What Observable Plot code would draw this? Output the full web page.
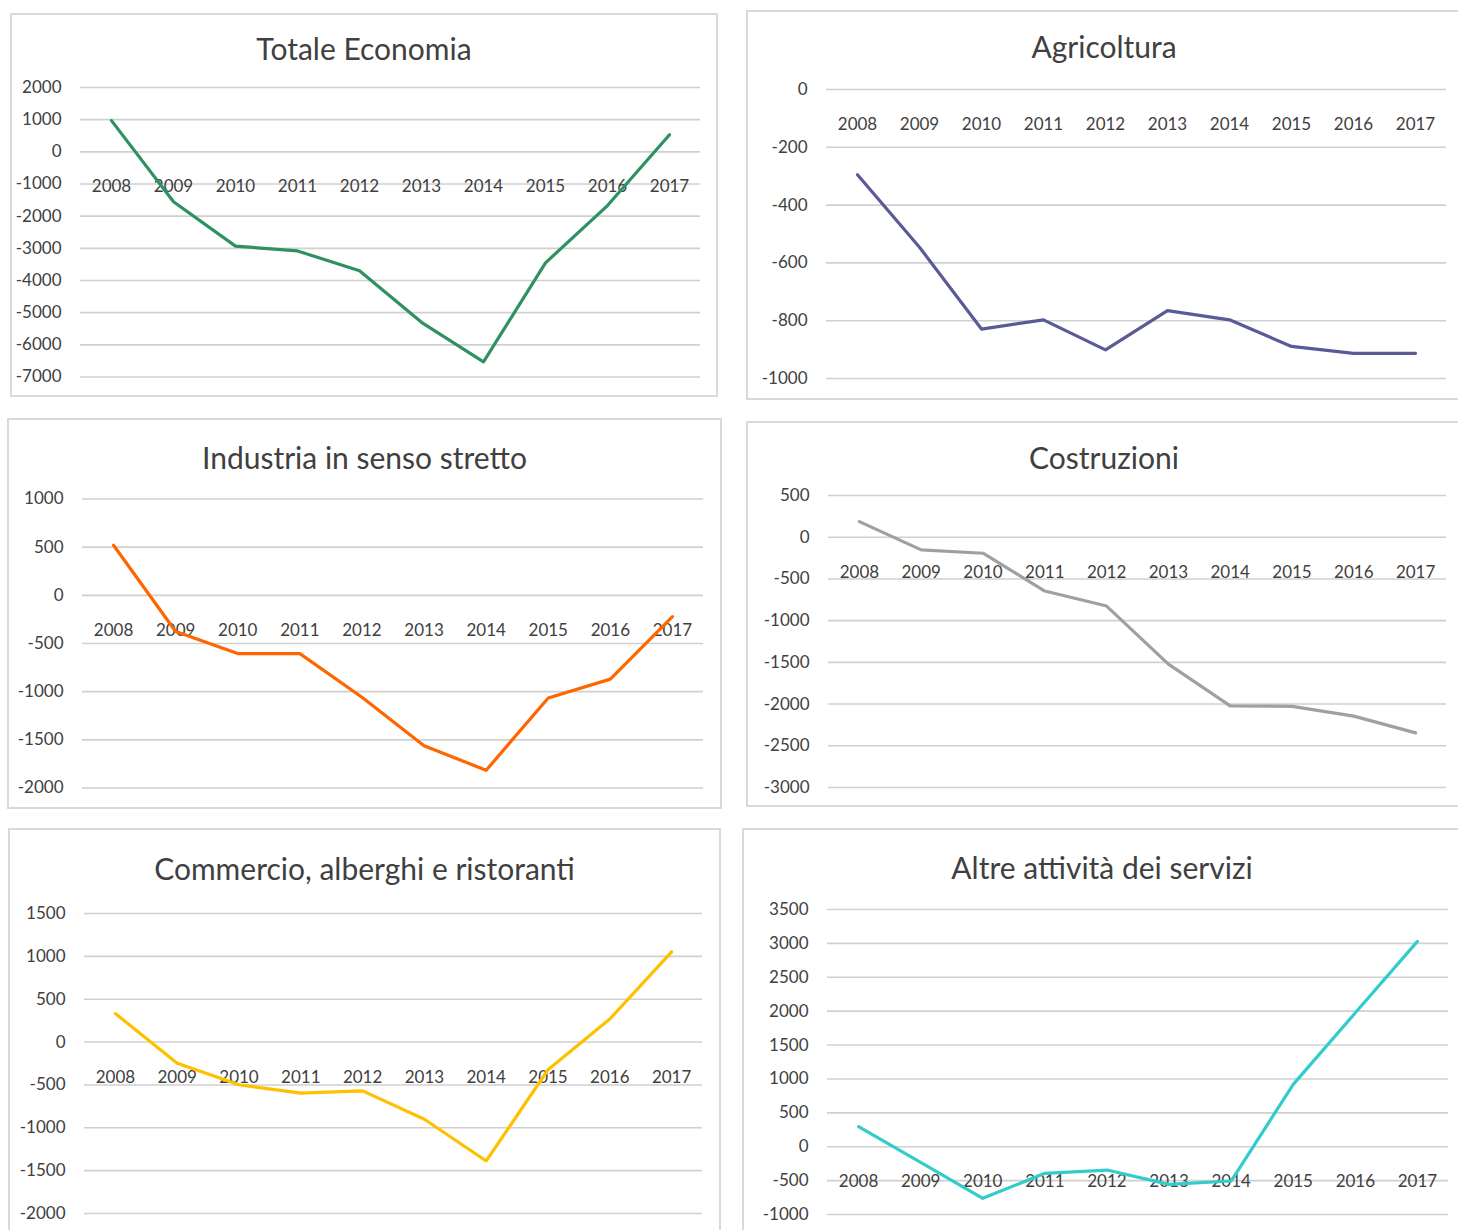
<!DOCTYPE html>
<html>
<head>
<meta charset="utf-8">
<script src="https://cdn.jsdelivr.net/npm/d3@7"></script>
<script src="https://cdn.jsdelivr.net/npm/@observablehq/plot@0.6"></script>
<style>
  html, body { margin: 0; padding: 0; background: #ffffff; }
  #root { position: relative; width: 1458px; height: 1230px; overflow: hidden; font-family: Lato, "Open Sans", sans-serif; }
  .panel { position: absolute; box-sizing: border-box; border: 2px solid #d9d9d9; background: #fff; overflow: hidden; }
  .title { text-align: center; color: #404040; font-size: 30px; white-space: nowrap; overflow: visible; }
</style>
</head>
<body>
<div id="root"></div>
<script>
// ---------------- DATA ----------------
const years = [2008, 2009, 2010, 2011, 2012, 2013, 2014, 2015, 2016, 2017];

const titles = [
  "Totale Economia",
  "Agricoltura",
  "Industria in senso stretto",
  "Costruzioni",
  "Commercio, alberghi e ristoranti",
  "Altre attività dei servizi"
];

const totaleEconomia = [970, -1550, -2930, -3080, -3700, -5300, -6530, -3450, -1670, 530];
const agricoltura    = [-295, -546, -829, -797, -901, -765, -797, -889, -913, -913];
const industria      = [520, -375, -605, -605, -1058, -1561, -1816, -1065, -870, -221];
const costruzioni    = [187, -152, -192, -645, -825, -1521, -2021, -2028, -2145, -2345];
const commercio      = [332, -246, -498, -596, -569, -900, -1387, -323, 269, 1053];
const altreServizi   = [295, -230, -761, -393, -344, -555, -506, 920, 1976, 3030];

const ticksTotale      = [2000, 1000, 0, -1000, -2000, -3000, -4000, -5000, -6000, -7000];
const ticksAgricoltura = [0, -200, -400, -600, -800, -1000];
const ticksIndustria   = [1000, 500, 0, -500, -1000, -1500, -2000];
const ticksCostruzioni = [500, 0, -500, -1000, -1500, -2000, -2500, -3000];
const ticksCommercio   = [1500, 1000, 500, 0, -500, -1000, -1500, -2000];
const ticksAltre       = [3500, 3000, 2500, 2000, 1500, 1000, 500, 0, -500, -1000];

const colors = ["#2e9160", "#5a5a98", "#ff6600", "#a0a0a0", "#ffc000", "#33cccc"];

// ---------------- LAYOUT (page pixels) ----------------
const layout = [
  {box: [10, 13, 718, 397],   tc: 48,  gx: [80, 700],   gy: [87, 376.5]},
  {box: [746, 10, 1462, 400], tc: 46,  gx: [826, 1446], gy: [89, 378]},
  {box: [7, 418, 722, 809],   tc: 457, gx: [82, 703],   gy: [498.5, 787.5]},
  {box: [746, 421, 1462, 807],tc: 457, gx: [828, 1446], gy: [495, 787]},
  {box: [8, 828, 721, 1240],  tc: 868, gx: [84, 702],   gy: [913, 1213]},
  {box: [742, 828, 1462, 1240],tc: 867, gx: [827, 1448], gy: [909, 1214]}
];

const series = [totaleEconomia, agricoltura, industria, costruzioni, commercio, altreServizi];
const tickSets = [ticksTotale, ticksAgricoltura, ticksIndustria, ticksCostruzioni, ticksCommercio, ticksAltre];

const root = document.getElementById("root");
const B = 2;
const titleH = 52;

series.forEach((vals, i) => {
  const L = layout[i];
  const [bl, bt, br, bb] = L.box;
  const panel = document.createElement("div");
  panel.className = "panel";
  panel.style.left = bl + "px";
  panel.style.top = bt + "px";
  panel.style.width = (br - bl) + "px";
  panel.style.height = (bb - bt) + "px";

  const title = document.createElement("div");
  title.className = "title";
  const centerOffset = L.tc - (bt + B);
  title.style.height = titleH + "px";
  title.style.lineHeight = (2 * centerOffset) + "px";
  title.textContent = titles[i];
  panel.appendChild(title);

  const svgLeft = bl + B;
  const svgTop = bt + B + titleH;
  const width = (br - bl) - 2 * B;
  const height = (bb - bt) - 2 * B - titleH;
  const ticks = tickSets[i];
  const data = years.map((y, k) => ({year: y, value: vals[k]}));

  const chart = Plot.plot({
    width,
    height,
    marginLeft: L.gx[0] - svgLeft,
    marginRight: svgLeft + width - L.gx[1],
    marginTop: L.gy[0] - svgTop,
    marginBottom: svgTop + height - L.gy[1],
    style: {background: "transparent", overflow: "visible", fontFamily: "Lato, 'Open Sans', sans-serif", maxWidth: "none"},
    x: {type: "point", domain: years, padding: 0.5, round: false, axis: null},
    y: {domain: [d3.min(ticks), d3.max(ticks)], axis: null, label: null},
    marks: [
      Plot.ruleY(ticks, {stroke: "#d0d0d0", strokeWidth: 1.6}),
      Plot.axisY(ticks, {
        tickSize: 0, tickPadding: 19, fontSize: 17, fill: "#404040",
        tickFormat: d => String(d), textAnchor: "end", label: null
      }),
      Plot.text(years, {x: d => d, y: () => 0, dy: 35, text: d => String(d), fontSize: 17, fill: "#404040"}),
      Plot.line(data, {x: "year", y: "value", stroke: colors[i], strokeWidth: 3.2, strokeLinejoin: "round"})
    ]
  });
  chart.style.display = "block";
  panel.appendChild(chart);
  root.appendChild(panel);
});
</script>
</body>
</html>
